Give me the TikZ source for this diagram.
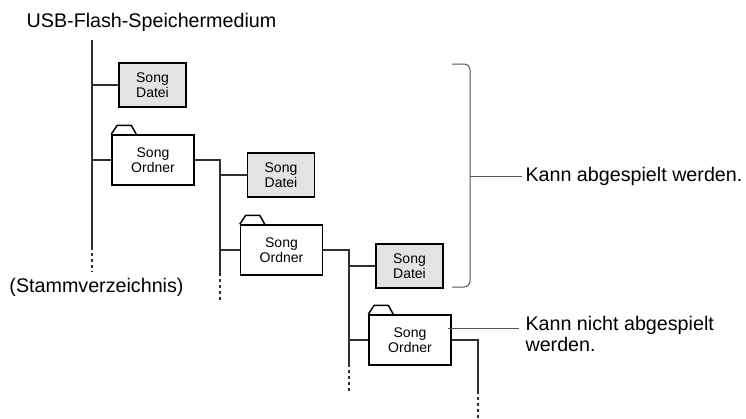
\documentclass[tikz,border=0pt]{standalone}
\usepackage{fontspec}
\setmainfont{Liberation Sans}
\usetikzlibrary{positioning, calc}
\definecolor{treeline}{HTML}{2E2E2E}
\definecolor{filegray}{HTML}{E3E3E3}
\definecolor{bracketgray}{HTML}{555555}
\newcommand{\foldertab}[1]{\draw[line width=1.5pt, line join=round] (#1.north west) -- ++(6,-9) -- ++(14,0) -- ++(5,9);}

\begin{document}
\begin{tikzpicture}[
    x=1pt, y=-1pt,
    every node/.style={font=\fontsize{19.7}{21}\selectfont, text=black},
    filebox/.style={draw, line width=1.5pt, fill=filegray, minimum width=67pt, minimum height=44pt, inner sep=0pt, align=center, font=\fontsize{14}{14.5}\selectfont},
    folderbox/.style={draw, line width=1.5pt, fill=white, minimum width=82pt, minimum height=50pt, inner sep=0pt, align=center, font=\fontsize{14}{14.5}\selectfont},
    link/.style={line width=1.1pt, treeline},
    more/.style={link, dash pattern=on 3pt off 3pt},
    note/.style={line width=1pt, bracketgray}
]
    \useasboundingbox (0,0) rectangle (746,418);

    % root of the medium
    \node (usb) at (151.5,22) {USB-Flash-Speichermedium};
    \coordinate (root) at (92,40);
    \coordinate (rootend) at (92,247);
    \draw[line width=2.8pt, treeline] (root) -- (rootend);
    \draw[line width=2.8pt, treeline, dash pattern=on 3pt off 3pt] (rootend) -- ++(0,25);
    \node (stamm) at (96.5,287) {(Stammverzeichnis)};

    % level 1
    \node[filebox] (file1) at (152.5,85) {Song\\Datei};
    \node[folderbox] (fold1) at (153,160) {Song\\Ordner};
    \foldertab{fold1}
    \draw[link] (root |- file1.west) -- (file1.west);
    \draw[link] (root |- fold1.west) -- (fold1.west);

    % level 2
    \node[filebox] (file2) at (281,175) {Song\\Datei};
    \node[folderbox] (fold2) at (281.5,250) {Song\\Ordner};
    \foldertab{fold2}
    \coordinate (br1) at (220,160);
    \draw[link] (fold1.east) -- (br1) -- (220,276);
    \draw[more] (220,279) -- (220,302);
    \draw[link] (br1 |- file2.west) -- (file2.west);
    \draw[link] (br1 |- fold2.west) -- (fold2.west);

    % level 3
    \node[filebox] (file3) at (409.5,266) {Song\\Datei};
    \node[folderbox] (fold3) at (410,340) {Song\\Ordner};
    \foldertab{fold3}
    \coordinate (br2) at (349,250);
    \draw[link] (fold2.east) -- (br2) -- (349,367);
    \draw[more] (349,370) -- (349,393);
    \draw[link] (br2 |- file3.west) -- (file3.west);
    \draw[link] (br2 |- fold3.west) -- (fold3.west);

    % level 4
    \coordinate (br3) at (478,340);
    \draw[link] (fold3.east) -- (br3) -- (478,394);
    \draw[more] (478,397) -- (478,418);

    % notes
    \draw[note, rounded corners=6pt] (452,64) -- (470,64) -- (470,287) -- (452,287);
    \node[anchor=west] (ok) at (522,176) {Kann abgespielt werden.};
    \draw[note] (470,176) -- (ok.west);
    \node[anchor=north west, align=left] (notok) at (522,313) {Kann nicht abgespielt\\werden.};
    \coordinate (notokpin) at (519,328);
    \draw[note] ($(fold3.east)+(-4,-12)$) -- (notokpin);
\end{tikzpicture}
\end{document}
